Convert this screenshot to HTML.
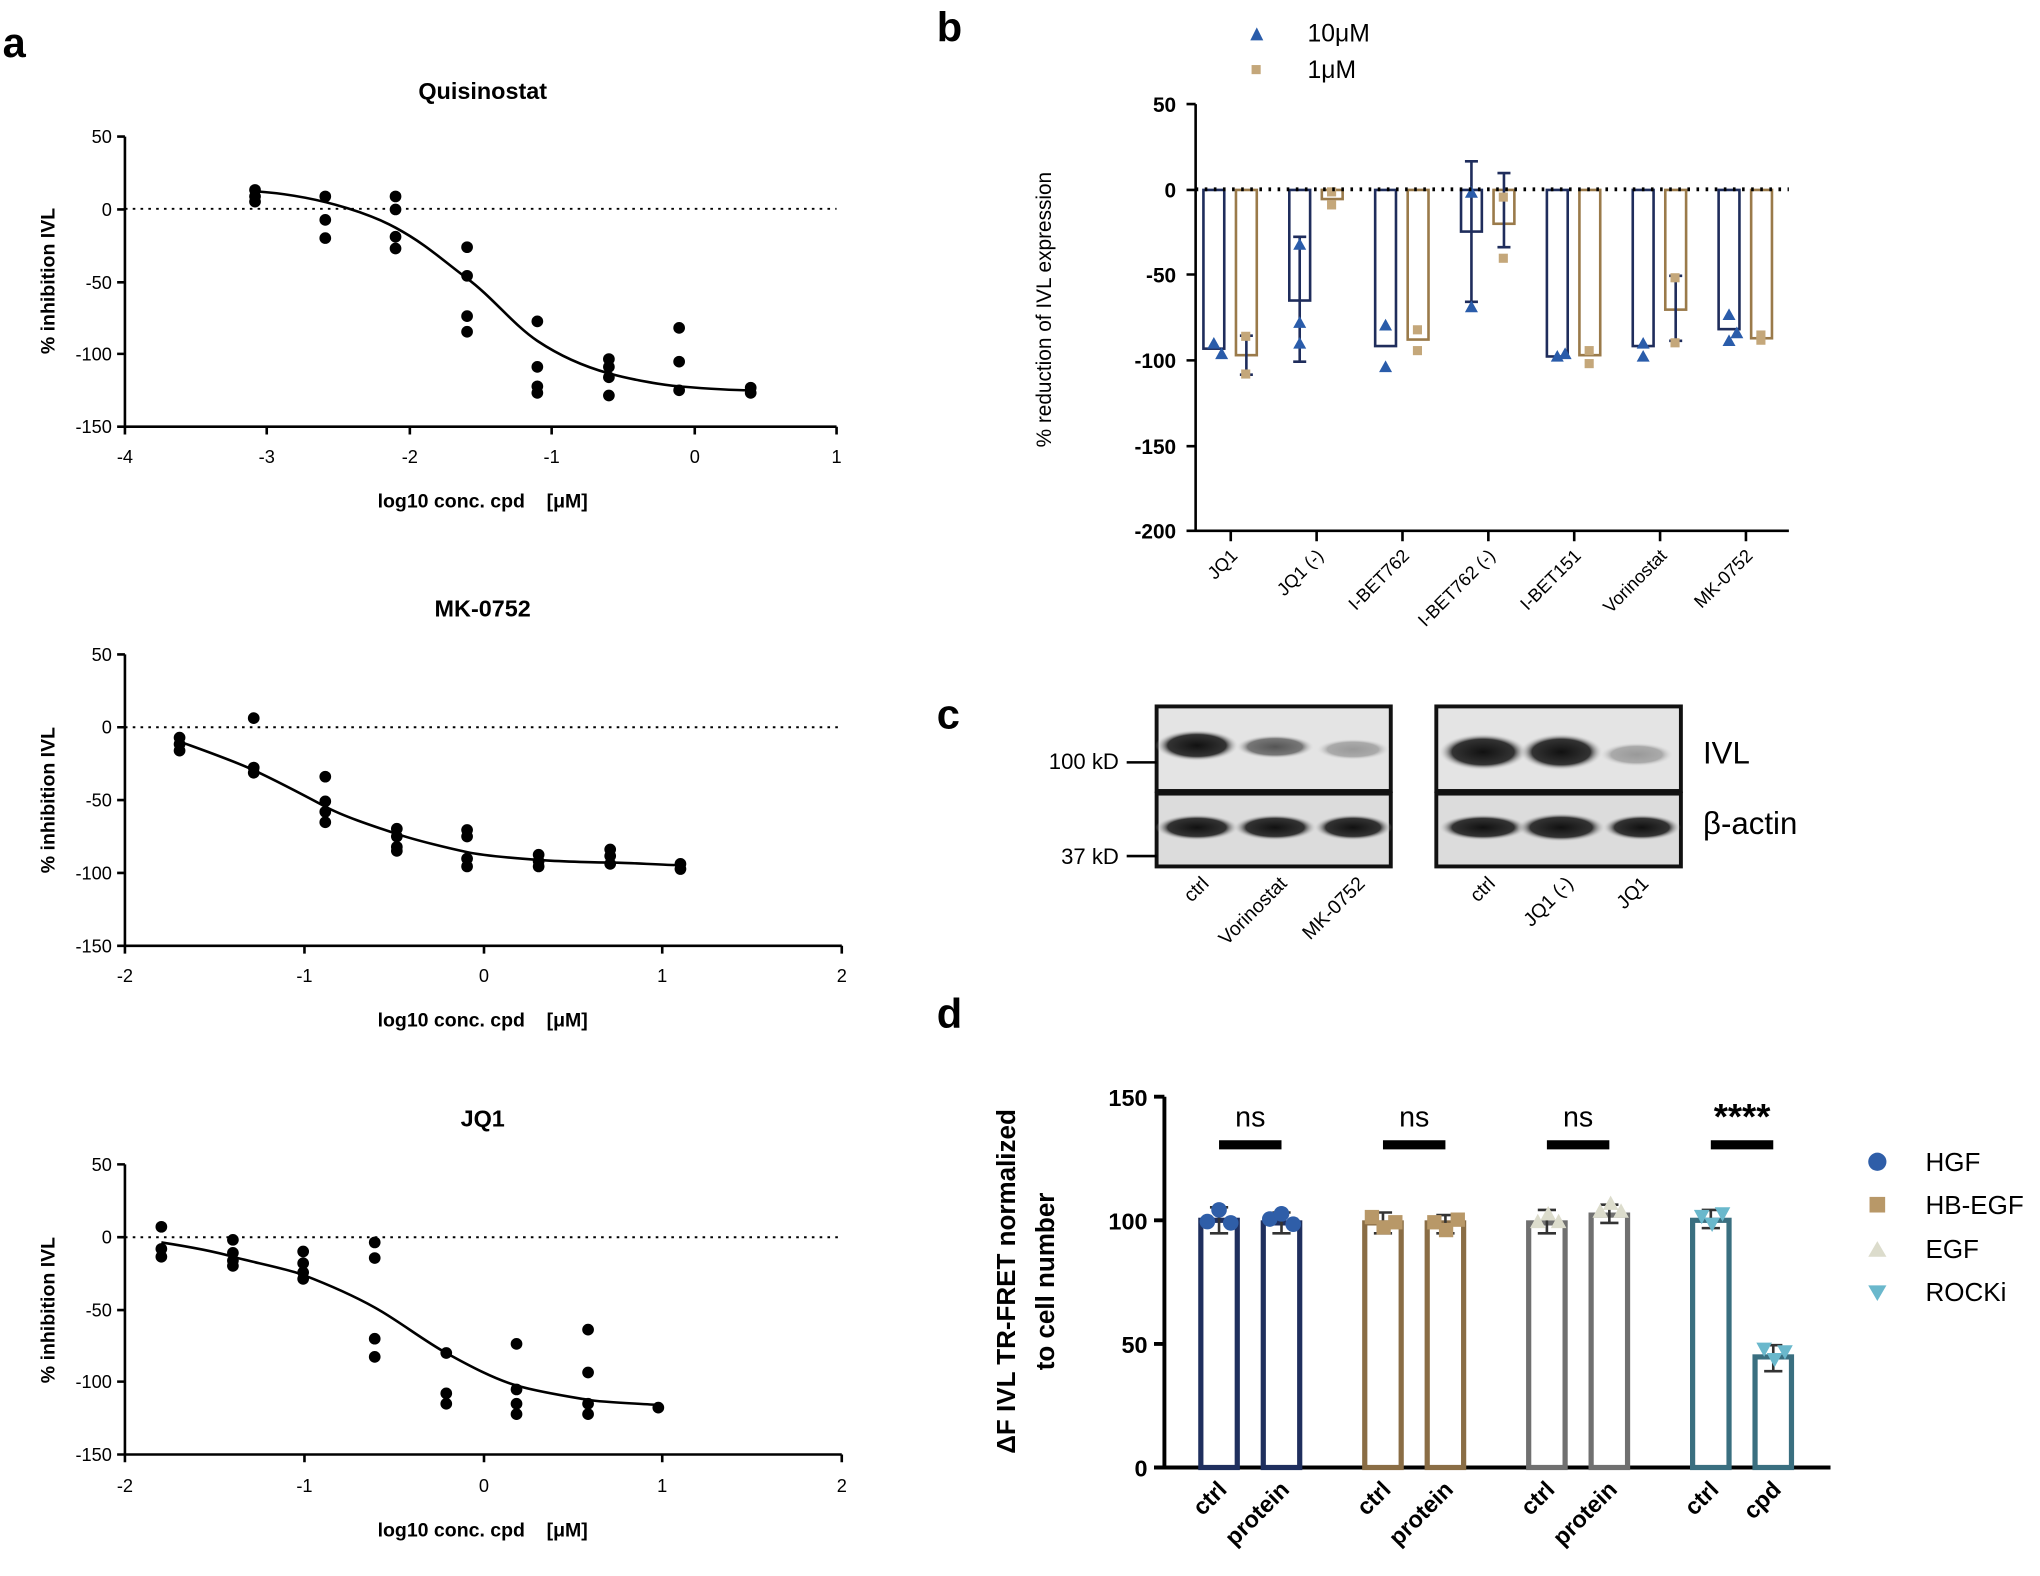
<!DOCTYPE html>
<html><head><meta charset="utf-8"><style>
html,body{margin:0;padding:0;background:#fff}
svg{display:block}
text{font-family:"Liberation Sans",Arial,sans-serif}
.b{font-weight:bold}
</style></head><body>
<svg width="2040" height="1576" viewBox="0 0 1568 1211.4" xmlns="http://www.w3.org/2000/svg">
<!-- panel letters -->
<text x="2" y="44" font-size="32" class="b">a</text>
<text x="720" y="32" font-size="32" class="b">b</text>
<text x="720" y="560" font-size="32" class="b">c</text>
<text x="720" y="790" font-size="32" class="b">d</text>

<!-- ===== a1 Quisinostat ===== -->
<g font-size="14" fill="#000">
<text x="371" y="76" text-anchor="middle" font-size="18" class="b">Quisinostat</text>
<path d="M96 105V328H643M90 105H96M90 161H96M90 217H96M90 272H96M90 328H96M96 328v6M205 328v6M315 328v6M424 328v6M534 328v6M643 328v6" stroke="#000" stroke-width="2" fill="none"/>
<line x1="96" y1="160.5" x2="643" y2="160.5" stroke="#000" stroke-width="1.5" stroke-dasharray="2,4"/>
<g text-anchor="end"><text x="86" y="110">50</text><text x="86" y="166">0</text><text x="86" y="222">-50</text><text x="86" y="277">-100</text><text x="86" y="333">-150</text></g>
<g text-anchor="middle"><text x="96" y="356">-4</text><text x="205" y="356">-3</text><text x="315" y="356">-2</text><text x="424" y="356">-1</text><text x="534" y="356">0</text><text x="643" y="356">1</text></g>
<text x="371" y="390" text-anchor="middle" class="b" font-size="15">log10 conc. cpd &#160;&#160;&#160;[μM]</text>
<text transform="translate(42,216) rotate(-90)" text-anchor="middle" class="b" font-size="15">% inhibition  IVL</text>
<path d="M196 147 C240 150 280 162 304 175 S340 200 359 214 S395 250 413 262 S450 282 468 287 S510 296 522 297 S560 300 577 300" stroke="#000" stroke-width="2" fill="none"/>
<g fill="#000">
<circle cx="196" cy="146" r="4.5"/><circle cx="196" cy="151" r="4.5"/><circle cx="196" cy="155" r="4.5"/>
<circle cx="250" cy="151" r="4.5"/><circle cx="250" cy="169" r="4.5"/><circle cx="250" cy="183" r="4.5"/>
<circle cx="304" cy="151" r="4.5"/><circle cx="304" cy="161" r="4.5"/><circle cx="304" cy="182" r="4.5"/><circle cx="304" cy="191" r="4.5"/>
<circle cx="359" cy="190" r="4.5"/><circle cx="359" cy="212" r="4.5"/><circle cx="359" cy="243" r="4.5"/><circle cx="359" cy="255" r="4.5"/>
<circle cx="413" cy="247" r="4.5"/><circle cx="413" cy="282" r="4.5"/><circle cx="413" cy="297" r="4.5"/><circle cx="413" cy="302" r="4.5"/>
<circle cx="468" cy="276" r="4.5"/><circle cx="468" cy="282" r="4.5"/><circle cx="468" cy="290" r="4.5"/><circle cx="468" cy="304" r="4.5"/>
<circle cx="522" cy="252" r="4.5"/><circle cx="522" cy="278" r="4.5"/><circle cx="522" cy="300" r="4.5"/>
<circle cx="577" cy="298" r="4.5"/><circle cx="577" cy="302" r="4.5"/>
</g>
</g>

<!-- ===== a2 MK-0752 ===== -->
<g font-size="14" fill="#000">
<text x="371" y="474" text-anchor="middle" font-size="18" class="b">MK-0752</text>
<path d="M96 503V727H647M90 503H96M90 559H96M90 615H96M90 671H96M90 727H96M96 727v6M234 727v6M372 727v6M509 727v6M647 727v6" stroke="#000" stroke-width="2" fill="none"/>
<line x1="96" y1="559" x2="647" y2="559" stroke="#000" stroke-width="1.5" stroke-dasharray="2,4"/>
<g text-anchor="end"><text x="86" y="508">50</text><text x="86" y="564">0</text><text x="86" y="620">-50</text><text x="86" y="676">-100</text><text x="86" y="732">-150</text></g>
<g text-anchor="middle"><text x="96" y="755">-2</text><text x="234" y="755">-1</text><text x="372" y="755">0</text><text x="509" y="755">1</text><text x="647" y="755">2</text></g>
<text x="371" y="789" text-anchor="middle" class="b" font-size="15">log10 conc. cpd &#160;&#160;&#160;[μM]</text>
<text transform="translate(42,615) rotate(-90)" text-anchor="middle" class="b" font-size="15">% inhibition  IVL</text>
<path d="M138 570 C160 578 180 585 195 592 S235 612 250 620 S290 636 305 641 S345 652 359 655 S400 660 414 661 S455 663 469 663 S510 665 523 665" stroke="#000" stroke-width="2" fill="none"/>
<g fill="#000">
<circle cx="138" cy="567" r="4.5"/><circle cx="138" cy="572" r="4.5"/><circle cx="138" cy="577" r="4.5"/>
<circle cx="195" cy="552" r="4.5"/><circle cx="195" cy="590" r="4.5"/><circle cx="195" cy="594" r="4.5"/>
<circle cx="250" cy="597" r="4.5"/><circle cx="250" cy="616" r="4.5"/><circle cx="250" cy="624" r="4.5"/><circle cx="250" cy="632" r="4.5"/>
<circle cx="305" cy="637" r="4.5"/><circle cx="305" cy="643" r="4.5"/><circle cx="305" cy="651" r="4.5"/><circle cx="305" cy="654" r="4.5"/>
<circle cx="359" cy="638" r="4.5"/><circle cx="359" cy="643" r="4.5"/><circle cx="359" cy="660" r="4.5"/><circle cx="359" cy="666" r="4.5"/>
<circle cx="414" cy="657" r="4.5"/><circle cx="414" cy="662" r="4.5"/><circle cx="414" cy="666" r="4.5"/>
<circle cx="469" cy="653" r="4.5"/><circle cx="469" cy="658" r="4.5"/><circle cx="469" cy="664" r="4.5"/>
<circle cx="523" cy="664" r="4.5"/><circle cx="523" cy="668" r="4.5"/>
</g>
</g>

<!-- ===== a3 JQ1 ===== -->
<g font-size="14" fill="#000">
<text x="371" y="866" text-anchor="middle" font-size="18" class="b">JQ1</text>
<path d="M96 895V1118H647M90 895H96M90 951H96M90 1007H96M90 1062H96M90 1118H96M96 1118v6M234 1118v6M372 1118v6M509 1118v6M647 1118v6" stroke="#000" stroke-width="2" fill="none"/>
<line x1="96" y1="951" x2="647" y2="951" stroke="#000" stroke-width="1.5" stroke-dasharray="2,4"/>
<g text-anchor="end"><text x="86" y="900">50</text><text x="86" y="956">0</text><text x="86" y="1012">-50</text><text x="86" y="1067">-100</text><text x="86" y="1123">-150</text></g>
<g text-anchor="middle"><text x="96" y="1147">-2</text><text x="234" y="1147">-1</text><text x="372" y="1147">0</text><text x="509" y="1147">1</text><text x="647" y="1147">2</text></g>
<text x="371" y="1181" text-anchor="middle" class="b" font-size="15">log10 conc. cpd &#160;&#160;&#160;[μM]</text>
<text transform="translate(42,1007) rotate(-90)" text-anchor="middle" class="b" font-size="15">% inhibition  IVL</text>
<path d="M124 955 C150 959 165 962 179 966 S220 975 233 980 S270 995 288 1005 S325 1030 343 1040 S380 1060 397 1065 S440 1074 452 1076 S495 1079 506 1080" stroke="#000" stroke-width="2" fill="none"/>
<g fill="#000">
<circle cx="124" cy="943" r="4.5"/><circle cx="124" cy="960" r="4.5"/><circle cx="124" cy="966" r="4.5"/>
<circle cx="179" cy="953" r="4.5"/><circle cx="179" cy="963" r="4.5"/><circle cx="179" cy="969" r="4.5"/><circle cx="179" cy="973" r="4.5"/>
<circle cx="233" cy="962" r="4.5"/><circle cx="233" cy="971" r="4.5"/><circle cx="233" cy="978" r="4.5"/><circle cx="233" cy="983" r="4.5"/>
<circle cx="288" cy="955" r="4.5"/><circle cx="288" cy="967" r="4.5"/><circle cx="288" cy="1029" r="4.5"/><circle cx="288" cy="1043" r="4.5"/>
<circle cx="343" cy="1040" r="4.5"/><circle cx="343" cy="1071" r="4.5"/><circle cx="343" cy="1079" r="4.5"/>
<circle cx="397" cy="1033" r="4.5"/><circle cx="397" cy="1068" r="4.5"/><circle cx="397" cy="1079" r="4.5"/><circle cx="397" cy="1087" r="4.5"/>
<circle cx="452" cy="1022" r="4.5"/><circle cx="452" cy="1055" r="4.5"/><circle cx="452" cy="1079" r="4.5"/><circle cx="452" cy="1087" r="4.5"/>
<circle cx="506" cy="1082" r="4.5"/>
</g>
</g>

<!-- ===== b ===== -->
<g font-size="16" fill="#000">
<path d="M961 31l5-10 5 10z" fill="#2a5caa"/><text x="1005" y="32" font-size="19">10μM</text>
<rect x="962" y="50" width="7" height="7" fill="#c4a77a"/><text x="1005" y="60" font-size="19">1μM</text>
<path d="M919 80V408H1375M912 80H919M912 146H919M912 211H919M912 277H919M912 343H919M912 408H919" stroke="#000" stroke-width="2" fill="none"/>
<g text-anchor="end" class="b"><text x="904" y="86">50</text><text x="904" y="152">0</text><text x="904" y="217">-50</text><text x="904" y="283">-100</text><text x="904" y="349">-150</text><text x="904" y="414">-200</text></g>
<text transform="translate(808,238) rotate(-90)" text-anchor="middle" font-size="16">% reduction of IVL expression</text>
<g fill="none" stroke-width="2">
<rect x="925" y="146" width="16" height="122" stroke="#1f2d5c"/><rect x="950" y="146" width="16" height="127" stroke="#9a7a4a"/>
<rect x="991" y="146" width="16" height="85" stroke="#1f2d5c"/><rect x="1016" y="146" width="16" height="7" stroke="#9a7a4a"/>
<rect x="1057" y="146" width="16" height="120" stroke="#1f2d5c"/><rect x="1082" y="146" width="16" height="115" stroke="#9a7a4a"/>
<rect x="1123" y="146" width="16" height="32" stroke="#1f2d5c"/><rect x="1148" y="146" width="16" height="26" stroke="#9a7a4a"/>
<rect x="1189" y="146" width="16" height="128" stroke="#1f2d5c"/><rect x="1214" y="146" width="16" height="127" stroke="#9a7a4a"/>
<rect x="1255" y="146" width="16" height="120" stroke="#1f2d5c"/><rect x="1280" y="146" width="16" height="92" stroke="#9a7a4a"/>
<rect x="1321" y="146" width="16" height="107" stroke="#1f2d5c"/><rect x="1346" y="146" width="16" height="114" stroke="#9a7a4a"/>
</g>
<!-- error bars -->
<g stroke-width="2">
<path d="M999 182V278M994 182h10M994 278h10M1131 124V232M1126 124h10M1126 232h10M1156 133V190M1151 133h10M1151 190h10M1288 212V262M1283 212h10M1283 262h10M958 258V288M953 258h10M953 288h10" stroke="#1f2d5c"/>
</g>
<g fill="#2a5caa">
<path d="M928 268l5-9 5 9zM934 276l5-9 5 9zM994 192l5-9 5 9zM994 252l5-9 5 9zM994 268l5-9 5 9zM1060 254l5-9 5 9zM1060 286l5-9 5 9zM1126 152l5-9 5 9zM1126 240l5-9 5 9zM1192 278l5-9 5 9zM1198 276l5-9 5 9zM1258 268l5-9 5 9zM1258 278l5-9 5 9zM1324 246l5-9 5 9zM1324 266l5-9 5 9zM1330 260l5-9 5 9z"/>
</g>
<g fill="#c4a77a">
<rect x="954" y="255" width="7" height="7"/><rect x="954" y="284" width="7" height="7"/><rect x="1020" y="144" width="7" height="7"/><rect x="1020" y="154" width="7" height="7"/><rect x="1086" y="250" width="7" height="7"/><rect x="1086" y="266" width="7" height="7"/><rect x="1152" y="148" width="7" height="7"/><rect x="1152" y="195" width="7" height="7"/><rect x="1218" y="266" width="7" height="7"/><rect x="1218" y="276" width="7" height="7"/><rect x="1284" y="210" width="7" height="7"/><rect x="1284" y="260" width="7" height="7"/><rect x="1350" y="254" width="7" height="7"/><rect x="1350" y="258" width="7" height="7"/>
</g>
<line x1="919" y1="145.5" x2="1375" y2="145.5" stroke="#000" stroke-width="3" stroke-dasharray="2,5"/>
<path d="M946 408v8M1012 408v8M1078 408v8M1144 408v8M1210 408v8M1276 408v8M1342 408v8" stroke="#000" stroke-width="2"/>
<g text-anchor="end" font-size="14">
<text transform="translate(952,428) rotate(-45)">JQ1</text>
<text transform="translate(1018,428) rotate(-45)">JQ1 (-)</text>
<text transform="translate(1084,428) rotate(-45)">I-BET762</text>
<text transform="translate(1150,428) rotate(-45)">I-BET762 (-)</text>
<text transform="translate(1216,428) rotate(-45)">I-BET151</text>
<text transform="translate(1282,428) rotate(-45)">Vorinostat</text>
<text transform="translate(1348,428) rotate(-45)">MK-0752</text>
</g>
</g>

<!-- ===== c ===== -->
<defs>
<radialGradient id="bd"><stop offset="0" stop-color="#111"/><stop offset="0.7" stop-color="#333"/><stop offset="1" stop-color="#ddd" stop-opacity="0"/></radialGradient>
<radialGradient id="bm"><stop offset="0" stop-color="#555"/><stop offset="0.7" stop-color="#777"/><stop offset="1" stop-color="#ddd" stop-opacity="0"/></radialGradient>
<radialGradient id="bl"><stop offset="0" stop-color="#999"/><stop offset="0.7" stop-color="#aaa"/><stop offset="1" stop-color="#ddd" stop-opacity="0"/></radialGradient>
</defs>
<g>
<rect x="889" y="543" width="180" height="65" fill="#e4e4e4" stroke="#111" stroke-width="3"/>
<rect x="889" y="610" width="180" height="56" fill="#dcdcdc" stroke="#111" stroke-width="3"/>
<rect x="1104" y="543" width="188" height="65" fill="#e4e4e4" stroke="#111" stroke-width="3"/>
<rect x="1104" y="610" width="188" height="56" fill="#dcdcdc" stroke="#111" stroke-width="3"/>
<ellipse cx="920" cy="573" rx="32" ry="12" fill="url(#bd)"/>
<ellipse cx="980" cy="574" rx="30" ry="9" fill="url(#bm)"/>
<ellipse cx="1040" cy="576" rx="28" ry="8" fill="url(#bl)"/>
<ellipse cx="1140" cy="578" rx="34" ry="14" fill="url(#bd)"/>
<ellipse cx="1200" cy="578" rx="32" ry="14" fill="url(#bd)"/>
<ellipse cx="1258" cy="580" rx="28" ry="9" fill="url(#bl)"/>
<ellipse cx="920" cy="636" rx="32" ry="10" fill="url(#bd)"/><ellipse cx="980" cy="636" rx="32" ry="10" fill="url(#bd)"/><ellipse cx="1040" cy="636" rx="30" ry="10" fill="url(#bd)"/>
<ellipse cx="1140" cy="636" rx="34" ry="10" fill="url(#bd)"/><ellipse cx="1200" cy="636" rx="34" ry="11" fill="url(#bd)"/><ellipse cx="1262" cy="636" rx="30" ry="10" fill="url(#bd)"/>
<path d="M866 586H889M866 658H889" stroke="#000" stroke-width="2"/>
<text x="860" y="591" text-anchor="end" font-size="17">100 kD</text>
<text x="860" y="664" text-anchor="end" font-size="17">37 kD</text>
<text x="1309" y="587" font-size="24">IVL</text>
<text x="1309" y="641" font-size="24">β-actin</text>
<g text-anchor="end" font-size="15">
<text transform="translate(930,680) rotate(-45)">ctrl</text>
<text transform="translate(990,680) rotate(-45)">Vorinostat</text>
<text transform="translate(1050,680) rotate(-45)">MK-0752</text>
<text transform="translate(1150,680) rotate(-45)">ctrl</text>
<text transform="translate(1210,680) rotate(-45)">JQ1 (-)</text>
<text transform="translate(1268,680) rotate(-45)">JQ1</text>
</g>
</g>

<!-- ===== d ===== -->
<g fill="#000">
<path d="M895 843V1128H1407M887 843H895M887 938H895M887 1033H895M887 1128H895" stroke="#000" stroke-width="3" fill="none"/>
<g text-anchor="end" class="b" font-size="18"><text x="882" y="850">150</text><text x="882" y="945">100</text><text x="882" y="1040">50</text><text x="882" y="1135">0</text></g>
<text transform="translate(780,985) rotate(-90)" text-anchor="middle" class="b" font-size="20">ΔF IVL TR-FRET normalized</text>
<text transform="translate(810,985) rotate(-90)" text-anchor="middle" class="b" font-size="20">to cell number</text>
<g fill="none" stroke-width="4">
<rect x="923" y="938" width="28" height="190" stroke="#1f2f5e"/><rect x="971" y="940" width="28" height="188" stroke="#1f2f5e"/>
<rect x="1049" y="940" width="28" height="188" stroke="#8a6d45"/><rect x="1097" y="940" width="28" height="188" stroke="#8a6d45"/>
<rect x="1175" y="940" width="28" height="188" stroke="#707070"/><rect x="1223" y="934" width="28" height="194" stroke="#707070"/>
<rect x="1301" y="938" width="28" height="190" stroke="#3a6f80"/><rect x="1349" y="1043" width="28" height="85" stroke="#3a6f80"/>
</g>
<g stroke-width="2" stroke="#333">
<path d="M937 928v20M930 928h14M930 948h14M985 932v16M978 932h14M978 948h14M1063 932v16M1056 932h14M1056 948h14M1111 934v14M1104 934h14M1104 948h14M1189 930v18M1182 930h14M1182 948h14M1237 926v14M1230 926h14M1230 940h14M1315 930v14M1308 930h14M1308 944h14M1363 1034v20M1356 1034h14M1356 1054h14"/>
</g>
<g fill="#2f5ea8"><circle cx="928" cy="939" r="6"/><circle cx="937" cy="930" r="6"/><circle cx="946" cy="940" r="6"/><circle cx="976" cy="937" r="6"/><circle cx="985" cy="933" r="6"/><circle cx="994" cy="941" r="6"/></g>
<g fill="#b89868"><rect x="1049" y="930" width="11" height="11"/><rect x="1058" y="938" width="11" height="11"/><rect x="1067" y="934" width="11" height="11"/><rect x="1097" y="934" width="11" height="11"/><rect x="1106" y="940" width="11" height="11"/><rect x="1115" y="932" width="11" height="11"/></g>
<g fill="#dcdccc"><path d="M1176 944l6-11 6 11zM1184 938l6-11 6 11zM1192 944l6-11 6 11zM1224 936l6-11 6 11zM1232 930l6-11 6 11zM1240 936l6-11 6 11z"/></g>
<g fill="#6ab8cc"><path d="M1302 930l6 11 6-11zM1310 936l6 11 6-11zM1318 928l6 11 6-11zM1350 1032l6 11 6-11zM1358 1040l6 11 6-11zM1366 1034l6 11 6-11z"/></g>
<g stroke="#000" stroke-width="7"><path d="M937 880H985M1063 880H1111M1189 880H1237M1315 880H1363"/></g>
<g text-anchor="middle" font-size="22"><text x="961" y="866">ns</text><text x="1087" y="866">ns</text><text x="1213" y="866">ns</text><text x="1339" y="868" class="b" font-size="28">****</text></g>
<g text-anchor="end" class="b" font-size="18">
<text transform="translate(944,1146) rotate(-45)">ctrl</text>
<text transform="translate(992,1146) rotate(-45)">protein</text>
<text transform="translate(1070,1146) rotate(-45)">ctrl</text>
<text transform="translate(1118,1146) rotate(-45)">protein</text>
<text transform="translate(1196,1146) rotate(-45)">ctrl</text>
<text transform="translate(1244,1146) rotate(-45)">protein</text>
<text transform="translate(1322,1146) rotate(-45)">ctrl</text>
<text transform="translate(1370,1146) rotate(-45)">cpd</text>
</g>
<circle cx="1443" cy="893" r="7" fill="#2f5ea8"/>
<rect x="1437" y="920" width="12" height="12" fill="#b89868"/>
<path d="M1436 966l7-12 7 12z" fill="#dcdccc"/>
<path d="M1436 988l7 12 7-12z" fill="#6ab8cc"/>
<g font-size="20"><text x="1480" y="900">HGF</text><text x="1480" y="933">HB-EGF</text><text x="1480" y="967">EGF</text><text x="1480" y="1000">ROCKi</text></g>
</g>
</svg>
</body></html>
